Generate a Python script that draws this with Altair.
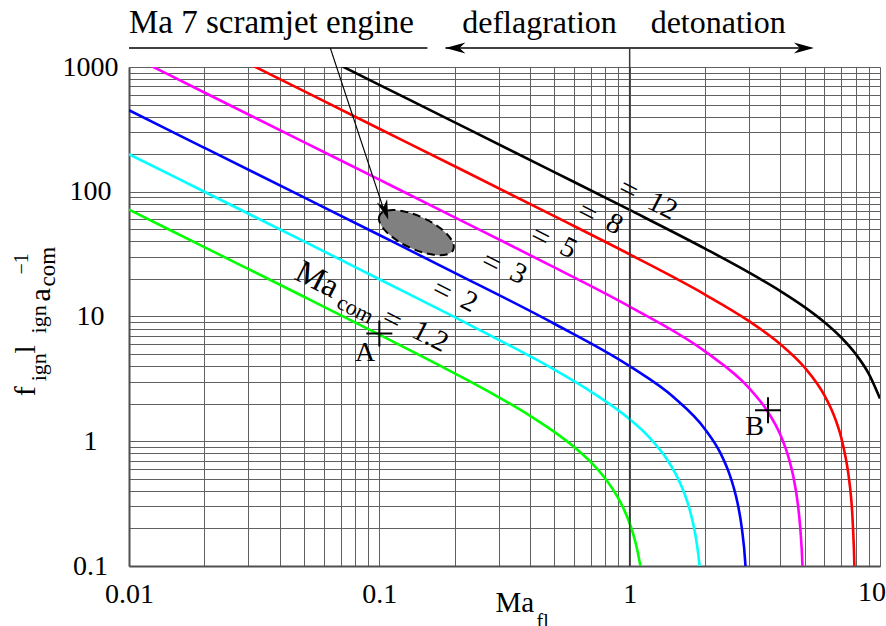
import altair as alt
import pandas as pd

FONT = "'Liberation Serif', 'Times New Roman', 'DejaVu Serif', serif"

# ---------------- curve data ----------------
series_names = ["1.2", "2", "3", "5", "8", "12"]
series_colors = ["#00ff00", "#00ffff", "#0000ff", "#ff00ff", "#ff0000", "#000000"]

ma_fl_1_2 = [0.01, 0.02, 0.05, 0.1, 0.2, 0.3, 0.4, 0.5, 0.6, 0.7, 0.8, 0.9, 0.95, 1.0, 1.05, 1.1, 1.12]
f_1_2 = [72, 36, 14.4, 7.15, 3.5, 2.25, 1.6, 1.19, 0.9, 0.68, 0.5, 0.35, 0.283, 0.22, 0.161, 0.104, 0.083]

ma_fl_2 = [0.01, 0.02, 0.05, 0.1, 0.2, 0.3, 0.5, 0.7, 1.0, 1.2, 1.4, 1.6, 1.7, 1.75, 1.8, 1.85, 1.9, 1.92]
f_2 = [200, 100, 40, 19.9, 9.9, 6.5, 3.75, 2.5, 1.5, 1.07, 0.73, 0.45, 0.326, 0.268, 0.211, 0.156, 0.103, 0.082]

ma_fl_3 = [0.01, 0.02, 0.05, 0.1, 0.2, 0.5, 1.0, 1.5, 2.0, 2.3, 2.5, 2.6, 2.7, 2.8, 2.9, 2.95]
f_3 = [450, 225, 90, 45, 22.4, 8.75, 4.0, 2.25, 1.25, 0.81, 0.55, 0.43, 0.317, 0.207, 0.102, 0.05]

ma_fl_5 = [0.01, 0.02, 0.05, 0.1, 0.2, 0.5, 1.0, 2.0, 3.0, 3.5, 4.0, 4.3, 4.5, 4.7, 4.8, 4.9, 4.95]
f_5 = [1250, 625, 250, 125, 62.4, 24.75, 12, 5.25, 2.67, 1.82, 1.125, 0.757, 0.528, 0.31, 0.204, 0.101, 0.05]

ma_fl_8 = [0.02, 0.05, 0.1, 0.2, 0.5, 1, 2, 3, 4, 5, 6, 6.5, 7, 7.3, 7.5, 7.8, 7.9, 7.95]
f_8 = [1600, 640, 320, 160, 63.75, 31.5, 15, 9.17, 6, 3.9, 2.33, 1.67, 1.07, 0.73, 0.52, 0.203, 0.101, 0.05]

ma_fl_12 = [0.05, 0.1, 0.2, 0.5, 1, 2, 3, 4, 5, 6, 7, 8, 9, 10]
f_12 = [1440, 720, 360, 143.75, 71.5, 35, 22.5, 16, 11.9, 9, 6.79, 5, 3.5, 2.2]

all_x = [ma_fl_1_2, ma_fl_2, ma_fl_3, ma_fl_5, ma_fl_8, ma_fl_12]
all_y = [f_1_2, f_2, f_3, f_5, f_8, f_12]

rows = []
for name, xs, ys in zip(series_names, all_x, all_y):
    for xv, yv in zip(xs, ys):
        rows.append({"x": xv, "y": yv, "series": name})
curves = pd.DataFrame(rows)

# ---------------- axes ----------------
x_grid = [round(m * d, 6) for d in [0.01, 0.1, 1] for m in range(1, 10)] + [10]
y_grid = [round(m * d, 6) for d in [0.1, 1, 10, 100] for m in range(1, 10)] + [1000]

x_axis = alt.Axis(
    values=x_grid, grid=True, gridColor="#606060", gridWidth=1, gridOpacity=1,
    ticks=False, domainColor="#505050", domainWidth=2,
    labelFont=FONT, labelFontSize=28, labelColor="black", labelPadding=14,
    labelExpr="indexof([0.01, 0.1, 1], datum.value) >= 0 ? format(datum.value, '~g') : ''",
    labelOverlap=False, labelFlush=False, labelBound=False, title=None,
)
y_axis = alt.Axis(
    values=y_grid, grid=True, gridColor="#606060", gridWidth=1, gridOpacity=1,
    ticks=False, domainColor="#505050", domainWidth=2,
    labelFont=FONT, labelFontSize=28, labelColor="black", labelPadding=39,
    labelAlign="center", labelBaseline="middle",
    labelExpr="indexof([0.1, 1, 10, 100, 1000], datum.value) >= 0 ? format(datum.value, '~g') : ''",
    labelOverlap=False, labelFlush=False, labelBound=False, title=None,
)
xs_scale = alt.Scale(type="log", domain=[0.01, 10])
ys_scale = alt.Scale(type="log", domain=[0.1, 1000])
X = alt.X("x:Q", scale=xs_scale, axis=x_axis)
Y = alt.Y("y:Q", scale=ys_scale, axis=y_axis)

lines = alt.Chart(curves).mark_line(clip=True, strokeWidth=2.6, interpolate="monotone").encode(
    x=X, y=Y,
    color=alt.Color("series:N", scale=alt.Scale(domain=series_names, range=series_colors), legend=None),
)

# ---------------- annotations ----------------
ELLIPSE = "M-1,0 A1,0.4 0 1,0 1,0 A1,0.4 0 1,0 -1,0 Z"
ARROW = "M0,0 L-2,-0.55 L-1.4,0 L-2,0.55 Z"
CROSS = "M-1,0 L1,0 M0,-1 L0,1"

ellipse_df = pd.DataFrame({"x": [0.1406], "y": [47.0]})
ellipse = alt.Chart(ellipse_df).mark_point(
    shape=ELLIPSE, size=6600, angle=25, filled=True, fill="#808080", stroke="black",
    strokeWidth=2, strokeDash=[8, 5], opacity=1, fillOpacity=1, strokeOpacity=1,
).encode(x=X, y=Y)

seg_df = pd.DataFrame({
    "x": [0.01, 0.1837, 1.0, 0.0637],
    "x2": [0.1556, 5.3, 1.0, 0.1056],
    "y": [1419, 1419, 1419, 1419],
    "y2": [1419, 1419, 0.1, 66],
    "w": [1.5, 1.5, 1.5, 1.1],
    "c": ["black", "black", "#3a3a3a", "black"],
})
segs = alt.Chart(seg_df).mark_rule().encode(
    x=X, x2="x2:Q", y=Y, y2="y2:Q",
    strokeWidth=alt.StrokeWidth("w:Q", scale=None),
    color=alt.Color("c:N", scale=None),
)

arrow_df = pd.DataFrame({"x": [0.1837, 5.445, 0.1086], "y": [1419, 1419, 59.7], "a": [180, 0, 71.4]})
arrows = alt.Chart(arrow_df).mark_point(
    shape=ARROW, size=400, filled=True, color="black", opacity=1,
).encode(x=X, y=Y, angle=alt.Angle("a:Q", scale=None))

cross_df = pd.DataFrame({"x": [0.1, 3.57], "y": [7.3, 1.77]})
crosses = alt.Chart(cross_df).mark_point(
    shape=CROSS, size=676, filled=False, stroke="black", strokeWidth=2, opacity=1,
).encode(x=X, y=Y)

# horizontal, left-aligned text
left_txt = pd.DataFrame({
    "t": ["Ma 7 scramjet engine", "deflagration", "detonation", "Ma", "fl"],
    "x": [0.01, 0.2143, 1.213, 0.291, 0.4246],
    "y": [1862, 1862, 1862, 0.0429, 0.0319],
    "fs": [33, 32, 32, 29, 20],
})
left_text = alt.Chart(left_txt).mark_text(align="left", baseline="alphabetic", font=FONT, color="black").encode(
    x=X, y=Y, text="t:N", size=alt.Size("fs:Q", scale=None))

right_txt = pd.DataFrame({"t": ["A", "B"], "x": [0.0964, 3.44], "y": [4.37, 1.117]})
right_text = alt.Chart(right_txt).mark_text(align="right", baseline="alphabetic", font=FONT, fontSize=28, color="black").encode(
    x=X, y=Y, text="t:N")

ten_txt = pd.DataFrame({"t": ["10"], "x": [9.29], "y": [0.0525]})
ten_text = alt.Chart(ten_txt).mark_text(align="center", baseline="alphabetic", font=FONT, fontSize=28, color="black").encode(
    x=X, y=Y, text="t:N")

curve_lbl = pd.DataFrame({
    "t": ["Ma", "com", "=", "1.2", "=", "2", "=", "3", "=", "5", "=", "8", "=", "12"],
    "x": [0.0565, 0.0802, 0.1127, 0.16, 0.1786, 0.229, 0.2805, 0.36, 0.4406, 0.57, 0.679, 0.871, 0.991, 1.355],
    "y": [19.8, 11.4, 9.46, 6.92, 16.1, 13.2, 27.0, 22.1, 43.7, 35.6, 67.9, 55.5, 103.8, 77.3],
    "fs": [33, 22, 32, 29, 32, 29, 32, 29, 32, 29, 32, 29, 32, 29],
})
curve_text = alt.Chart(curve_lbl).mark_text(align="center", baseline="middle", angle=27, font=FONT, color="black").encode(
    x=X, y=Y, text="t:N", size=alt.Size("fs:Q", scale=None))

ytitle = pd.DataFrame({
    "t": ["f", "ign", "l", "ign", "a", "com", "\u22121"],
    "x": [0.00421, 0.004656, 0.00421, 0.004656, 0.00483, 0.00506, 0.00394],
    "y": [2.29, 3.02, 5.06, 7.31, 13.2, 17.4, 21.7],
    "fs": [30, 22, 30, 22, 30, 23, 20],
})
ytitle_text = alt.Chart(ytitle).mark_text(align="left", baseline="alphabetic", angle=270, font=FONT, color="black").encode(
    x=X, y=Y, text="t:N", size=alt.Size("fs:Q", scale=None))

chart = alt.layer(
    lines, ellipse, segs, arrows, crosses,
    left_text, right_text, ten_text, curve_text, ytitle_text,
).properties(
    width=751, height=499,
    padding={"left": 129, "top": 67, "right": 6, "bottom": 60},
    autosize=alt.AutoSizeParams(type="none"),
).configure_view(stroke=None).configure(font=FONT, background="white")

chart.save("out.html", embed_options={"renderer": "svg", "actions": False})
